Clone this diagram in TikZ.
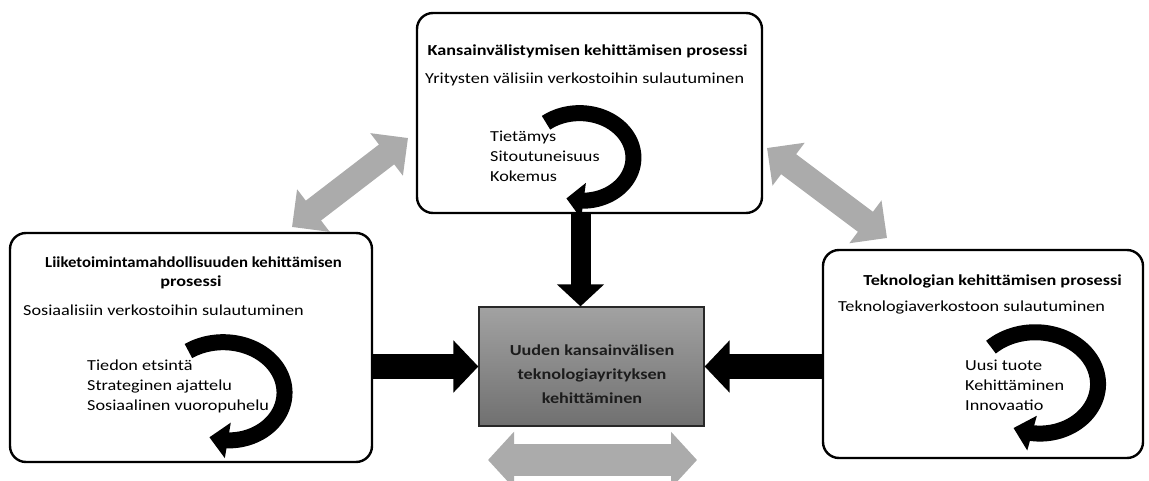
\documentclass[tikz,border=0pt]{standalone}
\usepackage{graphicx}
\usepackage{fontspec}
\setmainfont{Carlito}[FakeStretch=1.19]
\usetikzlibrary{arrows.meta,calc}
\definecolor{arrowgray}{RGB}{171,171,171}
\definecolor{ctrtop}{RGB}{162,162,162}
\definecolor{ctrbot}{RGB}{112,112,112}
\definecolor{ctrtext}{RGB}{28,28,28}
% #1 name, #2 cx, #3 cy, #4 radius, #5 shrink, #6 start angle, #7 tip angle
\newcommand\cyclearrow[7]{%
  \pgfmathsetmacro\sw{#6-(#7)}%
  \pgfmathsetmacro\ub{1-20/\sw}%
  \pgfmathsetmacro\ue{\ub+0.012}%
  \draw[cycline] plot[domain=0:\ue, samples=70, variable=\x]
    ({#2+1.2*(#4-#5*\x*\x)*cos(#6-\sw*\x)}, {#3-(#4-#5*\x*\x)*sin(#6-\sw*\x)});
  \coordinate (#1b) at ({#2+1.2*(#4-#5*\ub*\ub)*cos(#6-\sw*\ub)}, {#3-(#4-#5*\ub*\ub)*sin(#6-\sw*\ub)});
  \coordinate (#1t) at ({#2+1.2*(#4-#5)*cos(#7)}, {#3-(#4-#5)*sin(#7)});
  \fill ($(#1b)!18pt!90:(#1t)$) -- (#1t) -- ($(#1b)!18pt!-90:(#1t)$) -- cycle;
}
\begin{document}
\begin{tikzpicture}[x=1pt,y=-1pt,
  box/.style={draw=black, line width=2.4pt, rounded corners=16pt, inner sep=0pt, fill=white},
  txt/.style={font=\fontsize{15.3}{20}\selectfont, inner sep=0pt, anchor=base west},
  ttl/.style={font=\fontsize{15.3}{20}\selectfont\bfseries, inner sep=0pt, anchor=base},
  blk/.style={line width=25pt, -{Triangle[length=25pt,width=51pt]}},
  blkv/.style={line width=20pt, -{Triangle[length=22pt,width=46pt]}},
  gry/.style={draw=arrowgray, line width=25pt, {Triangle[length=27pt,width=52pt]}-{Triangle[length=27pt,width=52pt]}},
  gryh/.style={draw=arrowgray, line width=32pt, {Triangle[length=26pt,width=55pt]}-{Triangle[length=26pt,width=55pt]}},
  cycline/.style={line width=16pt, line cap=butt, line join=round}]
\useasboundingbox (0,0) rectangle (1149,481);
\clip (0,0) rectangle (1149,481);

% gray double arrows
\coordinate (g1a) at (292,227);
\coordinate (g1b) at (408,138);
\coordinate (g2a) at (767,148);
\coordinate (g2b) at (887,238);
\coordinate (g3a) at (488,460);
\coordinate (g3b) at (697,460);
\draw[gry] (g1a) -- (g1b);
\draw[gry] (g2a) -- (g2b);
\draw[gryh] (g3a) -- (g3b);

% boxes
\node[box, minimum width=345pt, minimum height=200pt] (top) at (589.5,113) {};
\node[box, minimum width=362pt, minimum height=229pt] (left) at (191,347.5) {};
\node[box, minimum width=320pt, minimum height=208pt] (right) at (983,354) {};
\node[draw={rgb,255:red,40;green,40;blue,40}, line width=1.3pt, top color=ctrtop, bottom color=ctrbot,
      minimum width=225pt, minimum height=119pt, inner sep=0pt] (ctr) at (591.5,366.5) {};

% top box texts
\node[ttl] (t1) at (587.5,56) {Kansainvälistymisen kehittämisen prosessi};
\node[txt] (t2) at (425,84) {Yritysten välisiin verkostoihin sulautuminen};
\node[txt] (t3) at (490,142) {Tietämys};
\node[txt] (t4) at (490,162) {Sitoutuneisuus};
\node[txt] (t5) at (490,182) {Kokemus};

% left box texts
\node[ttl] (l1) at (193.5,268) {\scalebox{0.92}[1]{Liiketoimintamahdollisuuden kehittämisen}};
\node[ttl] (l2) at (191,287) {prosessi};
\node[txt] (l3) at (23,315) {Sosiaalisiin verkostoihin sulautuminen};
\node[txt] (l4) at (87,370) {Tiedon etsintä};
\node[txt] (l5) at (87,390) {Strateginen ajattelu};
\node[txt] (l6) at (87,410) {Sosiaalinen vuoropuhelu};

% right box texts
\node[ttl] (r1) at (992.5,285) {Teknologian kehittämisen prosessi};
\node[txt] (r2) at (838,312) {Teknologiaverkostoon sulautuminen};
\node[txt] (r3) at (965,370) {Uusi tuote};
\node[txt] (r4) at (965,390) {Kehittäminen};
\node[txt] (r5) at (965,410) {Innovaatio};

% centre texts
\node[ttl, text=ctrtext] (c1) at (592,355) {Uuden kansainvälisen};
\node[ttl, text=ctrtext] (c2) at (592,379) {teknologiayrityksen};
\node[ttl, text=ctrtext] (c3) at (592,403) {kehittäminen};

% circular arrows
\cyclearrow{ca}{580}{159}{46}{5}{128}{-106}
\cyclearrow{cb}{224}{395}{53}{9}{124}{-106}
\cyclearrow{cc}{1036}{386}{54}{8}{134}{-114}

% black arrows
\draw[blkv] ([xshift=-11pt]ctr.north |- top.south) -- ([xshift=-11pt]ctr.north);
\draw[blk] (left.east |- ctr.west) -- (ctr.west);
\draw[blk] (right.west |- ctr.east) -- (ctr.east);
\end{tikzpicture}
\end{document}
